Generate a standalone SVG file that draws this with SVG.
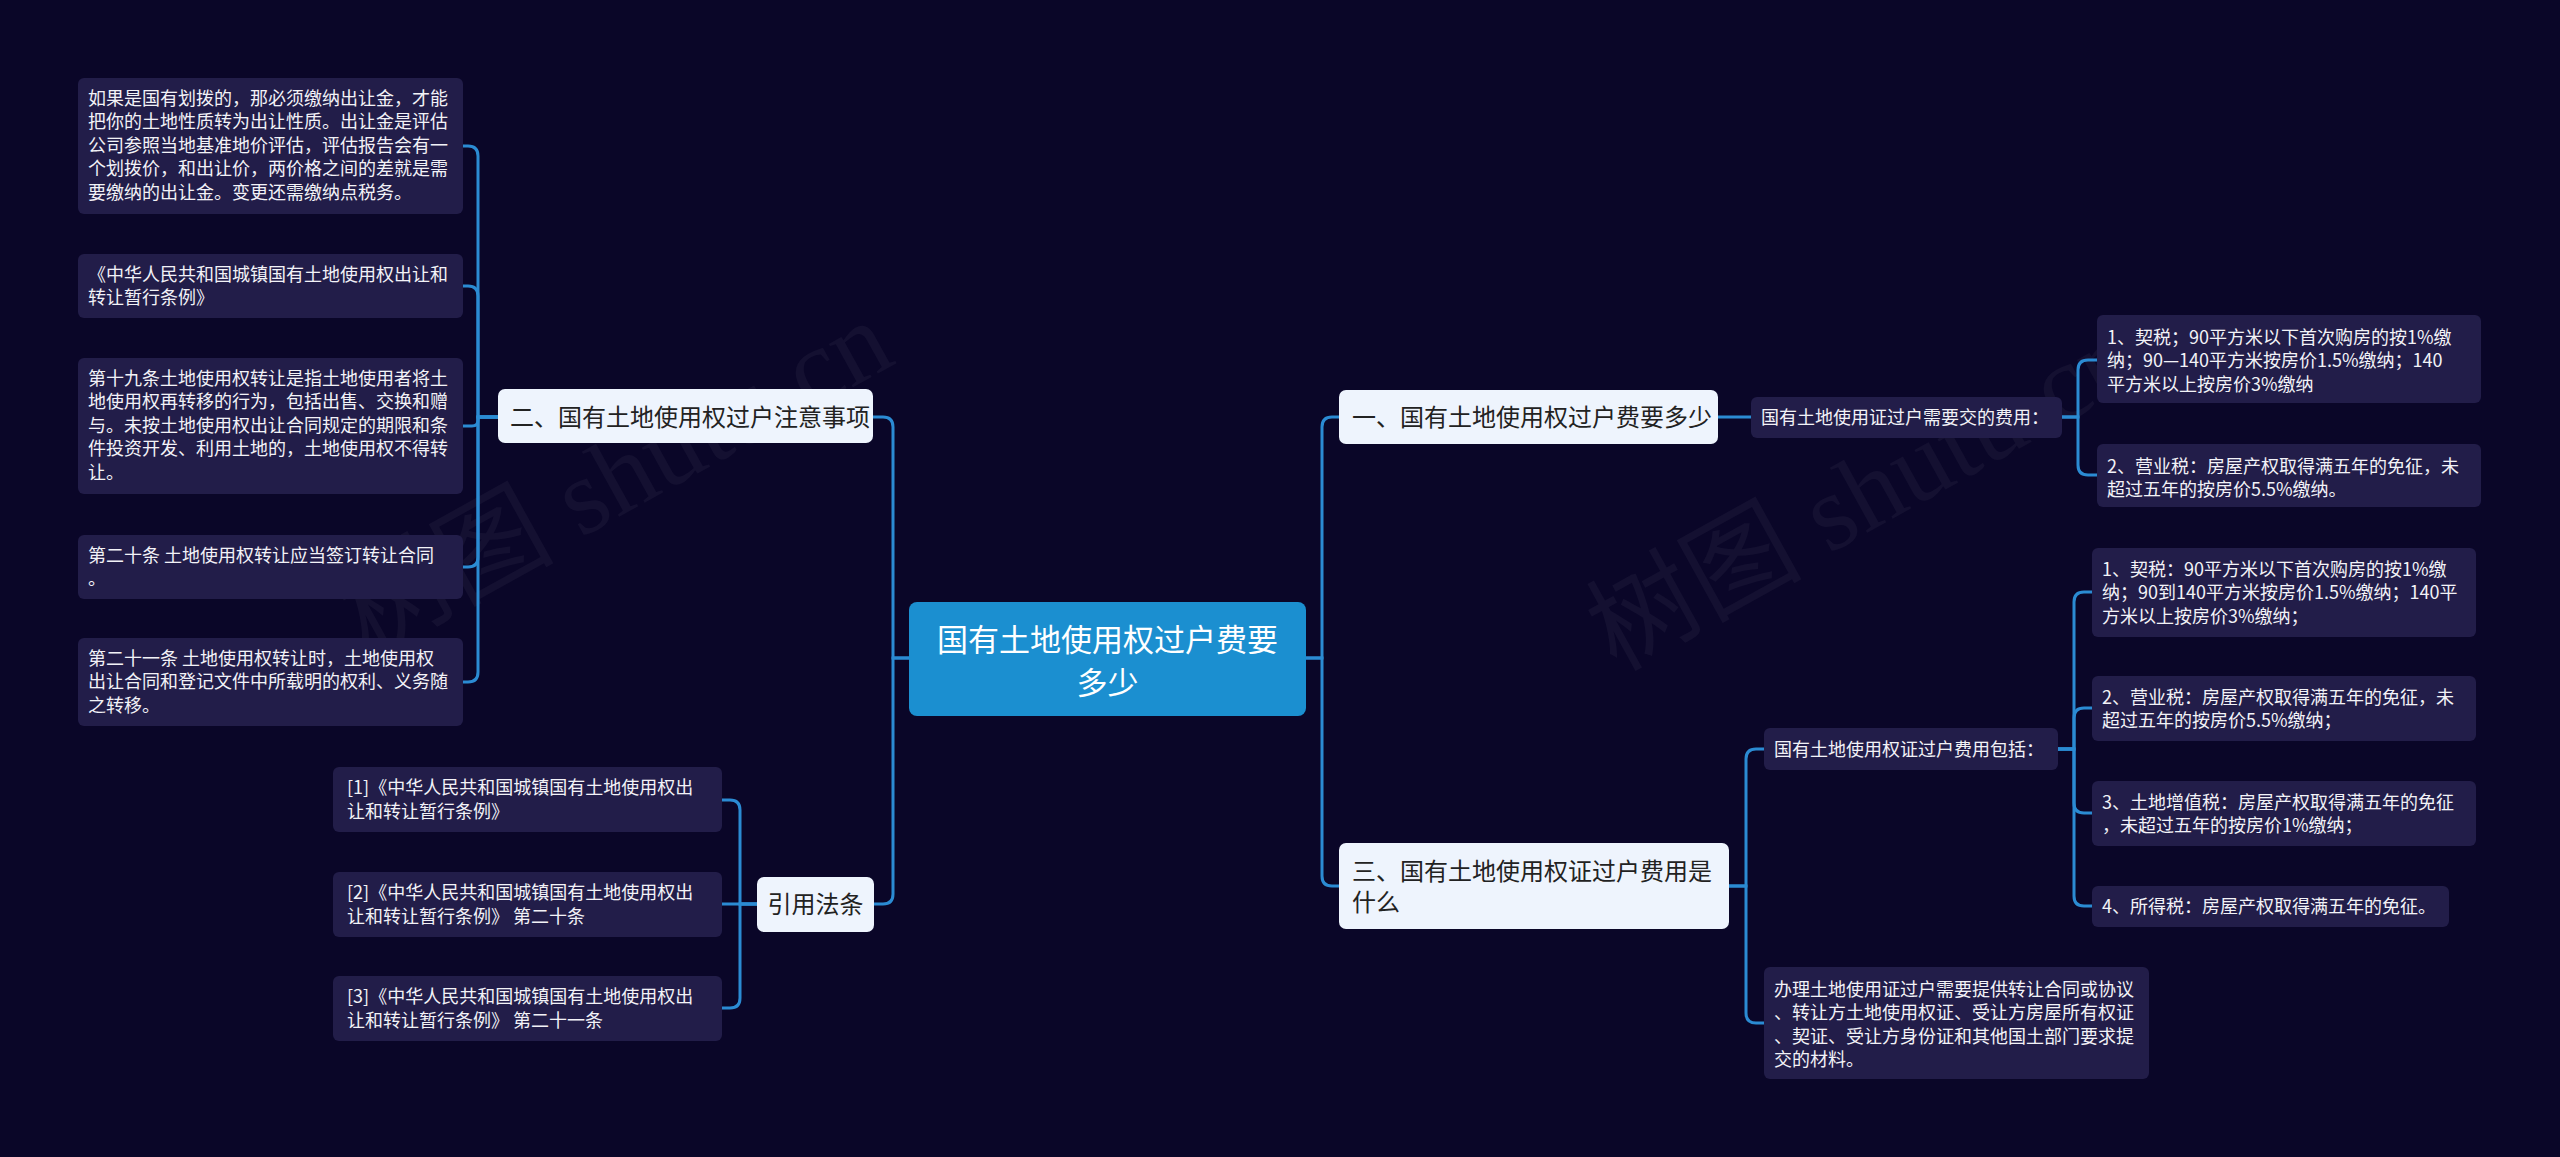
<svg xmlns="http://www.w3.org/2000/svg" width="2560" height="1157" viewBox="0 0 2560 1157">
<defs>
<style>
.bg{fill:#0a0628}
.leaf rect{fill:#221d49}
.leaf text{fill:#f2f2f7;font-family:"Noto Sans CJK SC","Liberation Sans",sans-serif;font-size:18px}
.l1 rect{fill:#eef4fd}
.l1 text{fill:#222222;font-family:"Noto Sans CJK SC","Liberation Sans",sans-serif;font-size:24px}
.root rect{fill:#1b8fd0}
.root text{fill:#ffffff;font-family:"Noto Sans CJK SC","Liberation Sans",sans-serif;font-size:31px}
.links path{fill:none;stroke:#2b8bd3;stroke-width:3;stroke-linecap:round}
.wm{fill:#ffffff;fill-opacity:0.045;font-family:"Liberation Serif","Noto Sans CJK SC",serif;font-size:108px}
</style>
</defs>
<rect class="bg" x="0" y="0" width="2560" height="1157"/>
<g id="watermark">
<text class="wm" transform="translate(368 656) rotate(-29)">树图 shutu.cn</text>
<text class="wm" transform="translate(1616 672) rotate(-29)">树图 shutu.cn</text>
</g>
<g class="links" id="connectors">
<path d="M909 658 H893 V427 Q893 417 883 417 H873"/>
<path d="M909 658 H893 V894 Q893 904 883 904 H874"/>
<path d="M1306 658 H1322 V427 Q1322 417 1332 417 H1339"/>
<path d="M1306 658 H1322 V876 Q1322 886 1332 886 H1339"/>
<path d="M498 417 H478 V156 Q478 146 468 146 H463"/>
<path d="M498 417 H478 V296 Q478 286 468 286 H463"/>
<path d="M498 417 H478 V420 Q478 426 472 426 H463"/>
<path d="M498 417 H478 V557 Q478 567 468 567 H463"/>
<path d="M498 417 H478 V672 Q478 682 468 682 H463"/>
<path d="M757 904 H740 V810 Q740 800 730 800 H722"/>
<path d="M757 904 H722"/>
<path d="M757 904 H740 V998 Q740 1008 730 1008 H722"/>
<path d="M1718 417 H1751"/>
<path d="M2062 417 H2078 V370 Q2078 360 2088 360 H2097"/>
<path d="M2062 417 H2078 V465 Q2078 475 2088 475 H2097"/>
<path d="M1729 886 H1746 V759 Q1746 749 1756 749 H1764"/>
<path d="M1729 886 H1746 V1013 Q1746 1023 1756 1023 H1764"/>
<path d="M2058 749 H2074 V602 Q2074 592 2084 592 H2092"/>
<path d="M2058 749 H2074 V718 Q2074 708 2084 708 H2092"/>
<path d="M2058 749 H2074 V803 Q2074 813 2084 813 H2092"/>
<path d="M2058 749 H2074 V896 Q2074 906 2084 906 H2092"/>
</g>
<g id="root" class="root">
<rect x="909" y="602" width="397" height="114" rx="8"/>
<text x="1107.5" y="651" text-anchor="middle">国有土地使用权过户费要</text>
<text x="1107.5" y="694" text-anchor="middle">多少</text>
</g>
<g id="n1" class="l1">
<rect x="1339" y="390" width="379" height="54" rx="7"/>
<text x="1352" y="425.5">一、国有土地使用权过户费要多少</text>
</g>
<g id="n2" class="l1">
<rect x="498" y="389" width="375" height="54" rx="7"/>
<text x="510" y="425.5">二、国有土地使用权过户注意事项</text>
</g>
<g id="n3" class="l1">
<rect x="1339" y="843" width="390" height="86" rx="7"/>
<text x="1352" y="880">三、国有土地使用权证过户费用是</text>
<text x="1352" y="911">什么</text>
</g>
<g id="n4" class="l1">
<rect x="757" y="877" width="117" height="55" rx="7"/>
<text x="815.5" y="913" text-anchor="middle">引用法条</text>
</g>
<g id="n2-1" class="leaf">
<rect x="78" y="78" width="385" height="136" rx="6"/>
<text x="88" y="104.5">如果是国有划拨的，那必须缴纳出让金，才能</text>
<text x="88" y="128">把你的土地性质转为出让性质。出让金是评估</text>
<text x="88" y="151.5">公司参照当地基准地价评估，评估报告会有一</text>
<text x="88" y="175">个划拨价，和出让价，两价格之间的差就是需</text>
<text x="88" y="198.5">要缴纳的出让金。变更还需缴纳点税务。</text>
</g>
<g id="n2-2" class="leaf">
<rect x="78" y="254" width="385" height="64" rx="6"/>
<text x="88" y="280.5">《中华人民共和国城镇国有土地使用权出让和</text>
<text x="88" y="304">转让暂行条例》</text>
</g>
<g id="n2-3" class="leaf">
<rect x="78" y="358" width="385" height="136" rx="6"/>
<text x="88" y="384.5">第十九条土地使用权转让是指土地使用者将土</text>
<text x="88" y="408">地使用权再转移的行为，包括出售、交换和赠</text>
<text x="88" y="431.5">与。未按土地使用权出让合同规定的期限和条</text>
<text x="88" y="455">件投资开发、利用土地的，土地使用权不得转</text>
<text x="88" y="478.5">让。</text>
</g>
<g id="n2-4" class="leaf">
<rect x="78" y="535" width="385" height="64" rx="6"/>
<text x="88" y="561.5">第二十条 土地使用权转让应当签订转让合同</text>
<text x="88" y="585">。</text>
</g>
<g id="n2-5" class="leaf">
<rect x="78" y="638" width="385" height="88" rx="6"/>
<text x="88" y="664.5">第二十一条 土地使用权转让时，土地使用权</text>
<text x="88" y="688">出让合同和登记文件中所载明的权利、义务随</text>
<text x="88" y="711.5">之转移。</text>
</g>
<g id="n4-1" class="leaf">
<rect x="333" y="767" width="389" height="65" rx="6"/>
<text x="347" y="794">[1]《中华人民共和国城镇国有土地使用权出</text>
<text x="347" y="817.5">让和转让暂行条例》</text>
</g>
<g id="n4-2" class="leaf">
<rect x="333" y="872" width="389" height="65" rx="6"/>
<text x="347" y="899">[2]《中华人民共和国城镇国有土地使用权出</text>
<text x="347" y="922.5">让和转让暂行条例》 第二十条</text>
</g>
<g id="n4-3" class="leaf">
<rect x="333" y="976" width="389" height="65" rx="6"/>
<text x="347" y="1003">[3]《中华人民共和国城镇国有土地使用权出</text>
<text x="347" y="1026.5">让和转让暂行条例》 第二十一条</text>
</g>
<g id="n1-1" class="leaf">
<rect x="1751" y="397" width="311" height="41" rx="6"/>
<text x="1761" y="423.5">国有土地使用证过户需要交的费用：</text>
</g>
<g id="n1-1-1" class="leaf">
<rect x="2097" y="315" width="384" height="88" rx="6"/>
<text x="2107" y="343.5">1、契税；90平方米以下首次购房的按1%缴</text>
<text x="2107" y="367">纳；90—140平方米按房价1.5%缴纳；140</text>
<text x="2107" y="390.5">平方米以上按房价3%缴纳</text>
</g>
<g id="n1-1-2" class="leaf">
<rect x="2097" y="444" width="384" height="63" rx="6"/>
<text x="2107" y="472.5">2、营业税：房屋产权取得满五年的免征，未</text>
<text x="2107" y="496">超过五年的按房价5.5%缴纳。</text>
</g>
<g id="n3-1" class="leaf">
<rect x="1764" y="728" width="294" height="42" rx="6"/>
<text x="1774" y="755.5">国有土地使用权证过户费用包括：</text>
</g>
<g id="n3-1-1" class="leaf">
<rect x="2092" y="548" width="384" height="89" rx="6"/>
<text x="2102" y="575.5">1、契税：90平方米以下首次购房的按1%缴</text>
<text x="2102" y="599">纳；90到140平方米按房价1.5%缴纳；140平</text>
<text x="2102" y="622.5">方米以上按房价3%缴纳；</text>
</g>
<g id="n3-1-2" class="leaf">
<rect x="2092" y="676" width="384" height="65" rx="6"/>
<text x="2102" y="703.5">2、营业税：房屋产权取得满五年的免征，未</text>
<text x="2102" y="727">超过五年的按房价5.5%缴纳；</text>
</g>
<g id="n3-1-3" class="leaf">
<rect x="2092" y="781" width="384" height="65" rx="6"/>
<text x="2102" y="808.5">3、土地增值税：房屋产权取得满五年的免征</text>
<text x="2102" y="832">，未超过五年的按房价1%缴纳；</text>
</g>
<g id="n3-1-4" class="leaf">
<rect x="2092" y="886" width="357" height="41" rx="6"/>
<text x="2102" y="912.5">4、所得税：房屋产权取得满五年的免征。</text>
</g>
<g id="n3-2" class="leaf">
<rect x="1764" y="967" width="385" height="112" rx="6"/>
<text x="1774" y="995.5">办理土地使用证过户需要提供转让合同或协议</text>
<text x="1774" y="1019">、转让方土地使用权证、受让方房屋所有权证</text>
<text x="1774" y="1042.5">、契证、受让方身份证和其他国土部门要求提</text>
<text x="1774" y="1066">交的材料。</text>
</g>
</svg>
